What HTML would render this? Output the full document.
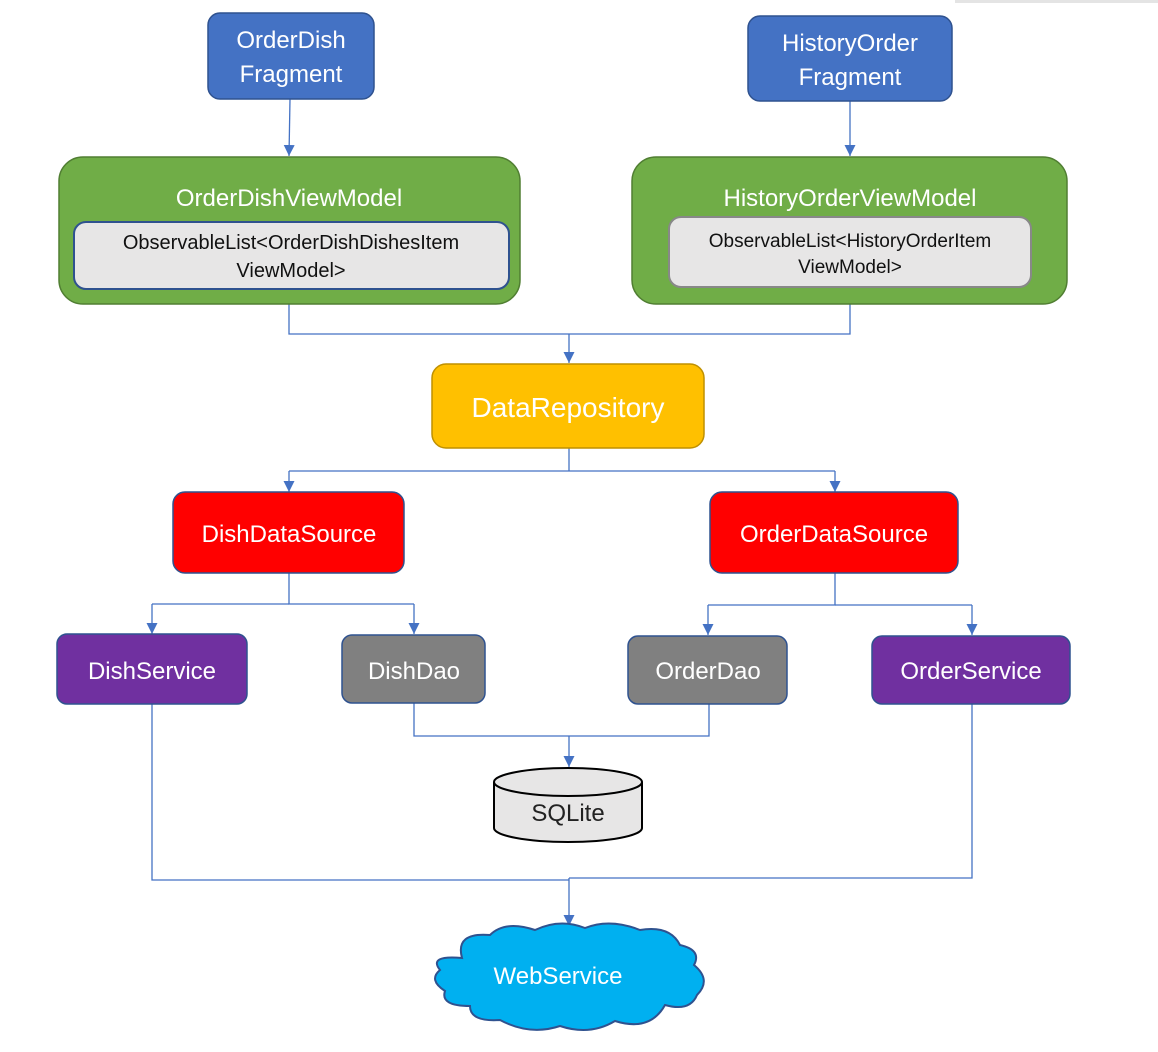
<!DOCTYPE html>
<html><head><meta charset="utf-8"><style>
html,body{margin:0;padding:0;background:#fff;}
svg{display:block;}
text{font-family:"Liberation Sans","Noto Sans CJK SC",sans-serif;text-anchor:middle;}
</style></head><body>
<svg width="1158" height="1052" viewBox="0 0 1158 1052" xmlns="http://www.w3.org/2000/svg">
<defs><marker id="a" markerWidth="11" markerHeight="11" refX="11" refY="5.5" orient="auto" markerUnits="userSpaceOnUse"><path d="M0,0 L11,5.5 L0,11 Z" fill="#4472C4"/></marker></defs>
<rect x="955" y="0" width="203" height="3" fill="#e4e4e4"/>
<g stroke="#4472C4" stroke-width="1.3" fill="none">
<path d="M290,99 L289,156" marker-end="url(#a)"/>
<path d="M850,101 L850,156" marker-end="url(#a)"/>
<path d="M289,304 V334 H850 V304"/>
<path d="M569,334 V363" marker-end="url(#a)"/>
<path d="M569,448 V471"/>
<path d="M289,471 H835"/>
<path d="M289,471 V492" marker-end="url(#a)"/>
<path d="M835,471 V492" marker-end="url(#a)"/>
<path d="M289,573 V604 H414"/>
<path d="M152,604 H289"/>
<path d="M152,604 V634" marker-end="url(#a)"/>
<path d="M414,604 V634" marker-end="url(#a)"/>
<path d="M835,573 V605 H708"/>
<path d="M835,605 H972"/>
<path d="M708,605 V635" marker-end="url(#a)"/>
<path d="M972,605 V635" marker-end="url(#a)"/>
<path d="M414,703 V736 H709 V704"/>
<path d="M569,736 V767" marker-end="url(#a)"/>
<path d="M152,704 V880 H569"/>
<path d="M972,704 V878 H569"/>
<path d="M569,878 V926" marker-end="url(#a)"/>
</g>
<rect x="208" y="13" width="166" height="86" rx="12" fill="#4472C4" stroke="#2F528F" stroke-width="1.5"/>
<text x="291" y="48" font-size="24" fill="#fff">OrderDish</text>
<text x="291" y="82" font-size="24" fill="#fff">Fragment</text>
<rect x="748" y="16" width="204" height="85" rx="12" fill="#4472C4" stroke="#2F528F" stroke-width="1.5"/>
<text x="850" y="51" font-size="24" fill="#fff">HistoryOrder</text>
<text x="850" y="85" font-size="24" fill="#fff">Fragment</text>
<rect x="59" y="157" width="461" height="147" rx="24" fill="#70AD47" stroke="#507E32" stroke-width="1.5"/>
<text x="289" y="206" font-size="24" fill="#fff">OrderDishViewModel</text>
<rect x="74" y="222" width="435" height="67" rx="12" fill="#E7E6E6" stroke="#2F528F" stroke-width="2"/>
<text x="291" y="249" font-size="20" fill="#111">ObservableList&lt;OrderDishDishesItem</text>
<text x="291" y="277" font-size="20" fill="#111">ViewModel&gt;</text>
<rect x="632" y="157" width="435" height="147" rx="24" fill="#70AD47" stroke="#507E32" stroke-width="1.5"/>
<text x="850" y="206" font-size="24" fill="#fff">HistoryOrderViewModel</text>
<rect x="669" y="217" width="362" height="70" rx="12" fill="#E7E6E6" stroke="#888" stroke-width="2"/>
<text x="850" y="247" font-size="19" fill="#111">ObservableList&lt;HistoryOrderItem</text>
<text x="850" y="273" font-size="19" fill="#111">ViewModel&gt;</text>
<rect x="432" y="364" width="272" height="84" rx="14" fill="#FFC000" stroke="#BF9000" stroke-width="1.5"/>
<text x="568" y="417" font-size="28" fill="#fff">DataRepository</text>
<rect x="173" y="492" width="231" height="81" rx="12" fill="#FF0000" stroke="#2F528F" stroke-width="1.5"/>
<text x="289" y="542" font-size="24" fill="#fff">DishDataSource</text>
<rect x="710" y="492" width="248" height="81" rx="12" fill="#FF0000" stroke="#2F528F" stroke-width="1.5"/>
<text x="834" y="542" font-size="24" fill="#fff">OrderDataSource</text>
<rect x="57" y="634" width="190" height="70" rx="10" fill="#7030A0" stroke="#2F528F" stroke-width="1.5"/>
<text x="152" y="679" font-size="24" fill="#fff">DishService</text>
<rect x="342" y="635" width="143" height="68" rx="10" fill="#808080" stroke="#2F528F" stroke-width="1.5"/>
<text x="414" y="679" font-size="24" fill="#fff">DishDao</text>
<rect x="628" y="636" width="159" height="68" rx="10" fill="#808080" stroke="#2F528F" stroke-width="1.5"/>
<text x="708" y="679" font-size="24" fill="#fff">OrderDao</text>
<rect x="872" y="636" width="198" height="68" rx="10" fill="#7030A0" stroke="#2F528F" stroke-width="1.5"/>
<text x="971" y="679" font-size="24" fill="#fff">OrderService</text>
<path d="M494,782 V828 A74,14 0 0 0 642,828 V782" fill="#E7E6E6" stroke="#000" stroke-width="2"/>
<ellipse cx="568" cy="782" rx="74" ry="14" fill="#E7E6E6" stroke="#000" stroke-width="2"/>
<text x="568" y="821" font-size="24" fill="#222">SQLite</text>
<path d="M462,958 Q455,932 490,935 Q505,920 535,930 Q560,918 585,928 Q610,918 640,930 Q670,925 680,945 Q702,950 694,965 Q712,980 697,995 Q690,1012 665,1005 Q650,1032 615,1021 Q590,1036 560,1026 Q530,1036 500,1020 Q470,1022 470,1006 Q440,1006 445,991 Q428,980 440,970 Q428,955 462,958 Z" fill="#00B0F0" stroke="#2F528F" stroke-width="2"/>
<text x="558" y="984" font-size="24" fill="#fff">WebService</text>
</svg>
</body></html>
